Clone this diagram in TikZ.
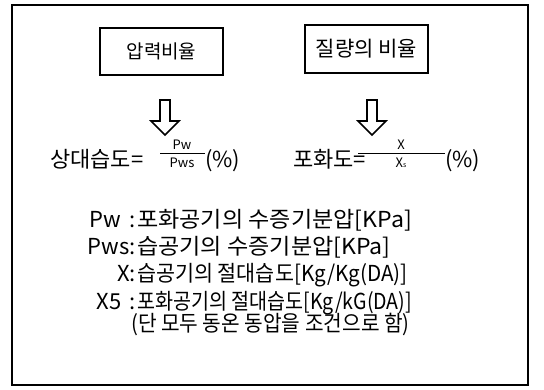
\documentclass[tikz,border=0pt]{standalone}
\usepackage{fontspec}
\usepackage{graphicx}
\setmainfont{Noto Sans CJK KR}
\begin{document}
\begin{tikzpicture}[x=1pt,y=-1pt,
  box/.style={draw,line width=1.3pt,inner sep=0pt,font=\fontsize{19}{22}\selectfont},
  txt/.style={inner sep=0pt,font=\fontsize{22}{24}\selectfont},
  small/.style={inner sep=0pt,font=\fontsize{13}{14}\selectfont},
  harrow/.pic={\draw[line width=1.6pt,line join=miter] (-5,0) -- (5,0) -- (5,21) -- (14,21) -- (0,35) -- (-14,21) -- (-5,21) -- cycle;}]
\useasboundingbox (0,0) rectangle (544,390);
% outer frame
\draw[line width=1.3pt] (12,5) rectangle (528,385);
\draw[line width=2.6pt] (12,385) -- (528,385);
% header boxes
\node[box,minimum width=123pt,minimum height=47pt] (b1) at (161.5,51.5) {압력비율};
\node[box,minimum width=123pt,minimum height=48pt,font=\fontsize{21}{24}\selectfont] (b2) at (366.5,49) {질량의 비율};
% hollow arrows
\pic at (165,100) {harrow};
\pic at (372,100) {harrow};
% left formula
\node[txt,anchor=base west] (rh) at (50,168) {상대습도=};
\node[small] (n1) at (182,145) {Pw};
\node[small] (d1) at (182,163) {Pws};
\coordinate (l1a) at (160,153);
\coordinate (l1b) at (205,153);
\draw[line width=0.9pt] (l1a) -- (l1b);
\node[txt,anchor=base west] (p1) at (205,168) {(\%)};
% right formula
\node[txt,anchor=base west] (sat) at (293,168) {포화도=};
\node[small] (n2) at (401,145) {X};
\node[small] (d2) at (401,163) {X{\fontsize{7}{7}\selectfont s}};
\coordinate (l2a) at (358,153);
\coordinate (l2b) at (445,153);
\draw[line width=0.9pt] (l2a) -- (l2b);
\node[txt,anchor=base west] (p2) at (445,168) {(\%)};
% definitions
\node[txt,anchor=base east] (k1) at (136,228) {Pw\hspace{9pt}:};
\node[txt,anchor=base west] (v1) at (137,228) {\scalebox{1.05}[1]{포화공기의 수증기분압[KPa]}};
\node[txt,anchor=base east] (k2) at (136,255) {Pws:};
\node[txt,anchor=base west] (v2) at (137,255) {\scalebox{1.05}[1]{습공기의 수증기분압[KPa]}};
\node[txt,anchor=base east] (k3) at (136,282) {X:};
\node[txt,anchor=base west] (v3) at (137,282) {\scalebox{0.94}[1]{습공기의 절대습도[Kg/Kg(DA)]}};
\node[txt,anchor=base east] (k4) at (136,309) {X5\hspace{8pt}:};
\node[txt,anchor=base west] (v4) at (137,309) {\scalebox{0.89}[1]{포화공기의 절대습도[Kg/kG(DA)]}};
\node[txt,anchor=base west] (v5) at (131,331) {\scalebox{0.92}[1]{(단 모두 동온 동압을 조건으로 함)}};
\end{tikzpicture}
\end{document}
